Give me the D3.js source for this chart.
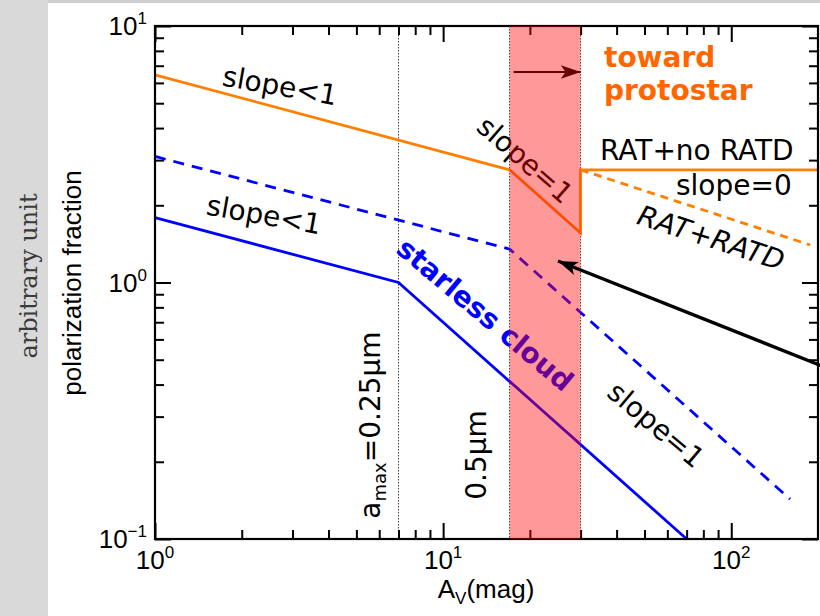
<!DOCTYPE html>
<html>
<head>
<meta charset="utf-8">
<script src="https://cdn.jsdelivr.net/npm/d3@7"></script>
<style>
body { margin: 0; background: #fff; }
svg { display: block; }
</style>
</head>
<body>
<svg id="chart" width="820" height="616"></svg>
<script>
// values (A_V in mag, polarization fraction in arbitrary unit)
var orangeSolid = [[1, 6.45], [17, 2.75], [30, 1.56], [30, 2.75], [200, 2.75]];
var orangeDashed = [[30, 2.75], [188, 1.40]];
var blueDashed = [[1, 3.1], [17, 1.35], [160, 0.143]];
var blueSolid = [[1, 1.79], [7, 1.0], [70, 0.1]];

var grainLines = [7, 17, 30];      // dotted verticals
var bandRange = [17, 30];          // red band

var xMajor = [1, 10, 100];
var xExp = ["0", "1", "2"];
var xMinor = [2, 3, 4, 5, 6, 7, 8, 9, 20, 30, 40, 50, 60, 70, 80, 90];
var yMajor = [0.1, 1, 10];
var yExp = ["\u22121", "0", "1"];
var yMinor = [0.2, 0.3, 0.4, 0.5, 0.6, 0.7, 0.8, 0.9, 2, 3, 4, 5, 6, 7, 8, 9];

var svg = d3.select("#chart");
var W = 820, H = 616;
var pLeft = 155, pRight = 818, pTop = 26, pBottom = 539;

// grey frame of the slide
svg.append("rect").attr("x", 0).attr("y", 0).attr("width", W).attr("height", H).attr("fill", "#cfcfcf");
svg.append("rect").attr("x", 0).attr("y", 0).attr("width", 48).attr("height", H).attr("fill", "#d9d9d9");
svg.append("rect").attr("x", 48).attr("y", 3).attr("width", W - 48).attr("height", H - 3).attr("fill", "#fff");

var x = d3.scaleLog().domain([1, 200]).range([pLeft, pRight]);
var y = d3.scaleLog().domain([0.1, 10]).range([pBottom, pTop]);

// dotted vertical lines
svg.selectAll("line.grain")
  .data(grainLines)
  .enter().append("line")
    .attr("class", "grain")
    .attr("x1", d => x(d)).attr("x2", d => x(d))
    .attr("y1", pTop).attr("y2", pBottom)
    .attr("stroke", "#444")
    .attr("stroke-width", 1)
    .attr("stroke-dasharray", "1.5,1.5");

// curves
var line = d3.line().x(d => x(d[0])).y(d => y(d[1]));

svg.append("path").attr("d", line(orangeSolid))
  .attr("fill", "none").attr("stroke", "#ff8000").attr("stroke-width", 2.8);
svg.append("path").attr("d", line(orangeDashed))
  .attr("fill", "none").attr("stroke", "#ff8000").attr("stroke-width", 2.8)
  .attr("stroke-dasharray", "8,6");
svg.append("path").attr("d", line(blueDashed))
  .attr("fill", "none").attr("stroke", "#0000ff").attr("stroke-width", 2.8)
  .attr("stroke-dasharray", "11,8");
svg.append("path").attr("d", line(blueSolid))
  .attr("fill", "none").attr("stroke", "#0000ff").attr("stroke-width", 2.8);

// axes: inward ticks on all four sides
var axes = [
  [d3.axisBottom, "translate(0," + pBottom + ")", x, xMajor, xMinor],
  [d3.axisTop, "translate(0," + pTop + ")", x, xMajor, xMinor],
  [d3.axisLeft, "translate(" + pLeft + ",0)", y, yMajor, yMinor],
  [d3.axisRight, "translate(" + pRight + ",0)", y, yMajor, yMinor]
];
axes.forEach(function(a){
  var g1 = svg.append("g").attr("transform", a[1])
    .call(a[0](a[2]).tickValues(a[4]).tickSize(-9).tickFormat(""));
  var g2 = svg.append("g").attr("transform", a[1])
    .call(a[0](a[2]).tickValues(a[3]).tickSize(-16).tickFormat(""));
  [g1, g2].forEach(function(g){
    g.selectAll(".tick line").attr("stroke", "#000").attr("stroke-width", 2);
    g.select(".domain").remove();
  });
});
svg.append("rect")
  .attr("x", pLeft).attr("y", pTop)
  .attr("width", pRight - pLeft).attr("height", pBottom - pTop)
  .attr("fill", "none").attr("stroke", "#000").attr("stroke-width", 2.2);

// tick labels
var axisFont = "'Liberation Sans', Arial, sans-serif";
svg.selectAll("text.xlab")
  .data(xMajor)
  .enter().append("text")
    .attr("class", "xlab")
    .attr("x", d => x(d)).attr("y", 569)
    .attr("text-anchor", "middle")
    .attr("font-family", axisFont).attr("font-size", 26)
    .each(function(d, i){
      var t = d3.select(this);
      t.append("tspan").text("10");
      t.append("tspan").attr("dy", -11).attr("font-size", 17).text(xExp[i]);
    });
svg.selectAll("text.ylab")
  .data(yMajor)
  .enter().append("text")
    .attr("class", "ylab")
    .attr("x", 147).attr("y", d => y(d) + 9)
    .attr("text-anchor", "end")
    .attr("font-family", axisFont).attr("font-size", 26)
    .each(function(d, i){
      var t = d3.select(this);
      t.append("tspan").text("10");
      t.append("tspan").attr("dy", -11).attr("font-size", 17).text(yExp[i]);
    });

// axis titles
var xt = svg.append("text")
  .attr("x", 486).attr("y", 598)
  .attr("text-anchor", "middle")
  .attr("font-family", axisFont).attr("font-size", 26);
xt.append("tspan").text("A");
xt.append("tspan").attr("dy", 6).attr("font-size", 17).text("V");
xt.append("tspan").attr("dy", -6).text("(mag)");

svg.append("text")
  .attr("transform", "translate(81,283) rotate(-90)")
  .attr("text-anchor", "middle")
  .attr("font-family", axisFont).attr("font-size", 26)
  .text("polarization fraction");

svg.append("text")
  .attr("transform", "translate(37,276) rotate(-90)")
  .attr("text-anchor", "middle")
  .attr("font-family", "'DejaVu Serif', serif").attr("font-size", 24)
  .attr("fill", "#3a3a3a")
  .text("arbitrary unit");

// annotations
var noteFont = "'DejaVu Sans', Verdana, sans-serif";
function note(txt, cx, cy, rot, opts){
  opts = opts || {};
  return svg.append("text")
    .attr("transform", "translate(" + cx + "," + cy + ") rotate(" + rot + ")")
    .attr("text-anchor", opts.anchor || "middle")
    .attr("dominant-baseline", opts.baseline || "central")
    .attr("font-family", noteFont)
    .attr("font-size", opts.size || 28)
    .attr("font-weight", opts.weight || "normal")
    .attr("font-style", opts.style || "normal")
    .attr("fill", opts.fill || "#000")
    .text(txt);
}
note("slope<1", 280, 86, 10);
note("slope<1", 264, 215, 10);
note("slope=1", 525, 160, 41);
note("slope=1", 656, 425, 40);
note("RAT+no RATD", 600, 160, 0, {anchor: "start", baseline: "auto"});
note("slope=0", 676, 195, 0, {anchor: "start", baseline: "auto"});
note("RAT+RATD", 711, 238, 18, {style: "oblique"});
note("starless cloud", 485, 315, 40, {weight: "bold", fill: "#0000ff"});
note("toward", 604, 67, 0, {anchor: "start", baseline: "auto", weight: "bold", fill: "#ff6600"});
note("protostar", 604, 100, 0, {anchor: "start", baseline: "auto", weight: "bold", fill: "#ff6600"});

var am = svg.append("text")
  .attr("transform", "translate(380,425) rotate(-90)")
  .attr("text-anchor", "middle")
  .attr("font-family", noteFont).attr("font-size", 28);
am.append("tspan").text("a");
am.append("tspan").attr("dy", 6).attr("font-size", 18).text("max");
am.append("tspan").attr("dy", -6).text("=0.25\u00b5m");

svg.append("text")
  .attr("transform", "translate(486,455) rotate(-90)")
  .attr("text-anchor", "middle")
  .attr("font-family", noteFont).attr("font-size", 28)
  .text("0.5\u00b5m");

// arrowheads
var defs = svg.append("defs");
defs.append("marker")
  .attr("id", "head").attr("markerUnits", "userSpaceOnUse")
  .attr("viewBox", "0 0 20 14").attr("refX", 20).attr("refY", 7)
  .attr("markerWidth", 20).attr("markerHeight", 14).attr("orient", "auto")
  .append("path").attr("d", "M0,0 L20,7 L0,14 L5,7 Z").attr("fill", "#000");

// small arrow inside the band (under the red overlay)
svg.append("line")
  .attr("x1", x(bandRange[0]) + 4).attr("y1", 72)
  .attr("x2", x(bandRange[1])).attr("y2", 72)
  .attr("stroke", "#000").attr("stroke-width", 2.2)
  .attr("marker-end", "url(#head)");

// red band over everything
svg.append("rect")
  .attr("x", x(bandRange[0])).attr("y", pTop)
  .attr("width", x(bandRange[1]) - x(bandRange[0]))
  .attr("height", pBottom - pTop)
  .attr("fill", "#ff0000").attr("fill-opacity", 0.4);

// black arrow pointing into the band
svg.append("line")
  .attr("x1", 822).attr("y1", 366)
  .attr("x2", 558).attr("y2", 261)
  .attr("stroke", "#000").attr("stroke-width", 3.4)
  .attr("marker-end", "url(#head)");
</script>
</body>
</html>
